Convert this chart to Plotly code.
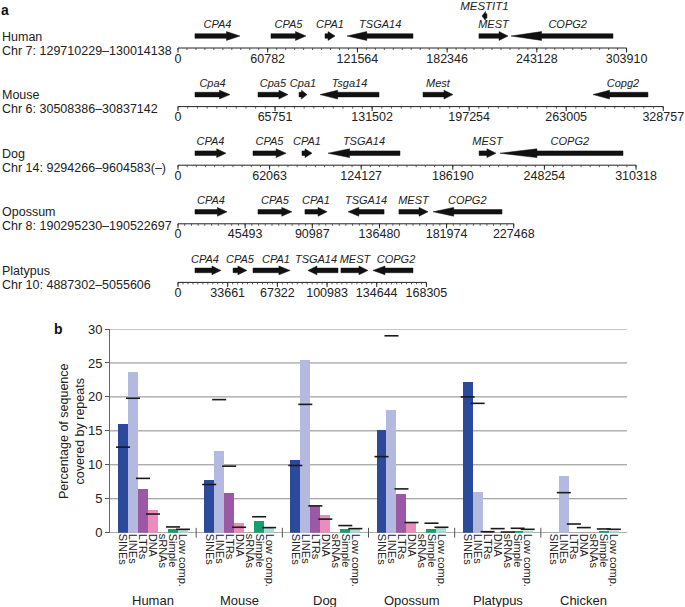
import plotly.graph_objects as go

W, H = 685, 607
FONT = "Liberation Sans, Arial, Helvetica, sans-serif"

# ---------------- Panel a data ----------------
species_a = ["Human", "Mouse", "Dog", "Opossum", "Platypus"]
chrom_a = ["Chr 7: 129710229–130014138", "Chr 6: 30508386–30837142",
           "Chr 14: 9294266–9604583(–)", "Chr 8: 190295230–190522697",
           "Chr 10: 4887302–5055606"]
region_len = [303910, 328757, 310318, 227468, 168305]
ruler_ticks = [
    [0, 60782, 121564, 182346, 243128, 303910],
    [0, 65751, 131502, 197254, 263005, 328757],
    [0, 62063, 124127, 186190, 248254, 310318],
    [0, 45493, 90987, 136480, 181974, 227468],
    [0, 33661, 67322, 100983, 134644, 168305],
]

human_genes = ["CPA4", "CPA5", "CPA1", "TSGA14", "MEST", "COPG2", "MESTIT1"]
human_start = [11500, 63000, 99600, 114500, 203900, 225600, 206000]
human_end = [42000, 86700, 106400, 159200, 223600, 294700, 209300]
human_strand = [1, 1, 1, -1, 1, -1, -1]
human_lane = [0, 0, 0, 0, 0, 0, 1]
human_label_pos = [26700, 74800, 103000, 137000, 213700, 264000, 207600]

mouse_genes = ["Cpa4", "Cpa5", "Cpa1", "Tsga14", "Mest", "Copg2"]
mouse_start = [11500, 54200, 82000, 96200, 166000, 281200]
mouse_end = [35200, 74500, 87400, 136200, 186300, 318400]
mouse_strand = [1, 1, 1, -1, 1, -1]
mouse_lane = [0, 0, 0, 0, 0, 0]
mouse_label_pos = [23400, 64300, 84700, 116200, 176100, 301500]

dog_genes = ["CPA4", "CPA5", "CPA1", "TSGA14", "MEST", "COPG2"]
dog_start = [11500, 50800, 84000, 101600, 204000, 218200]
dog_end = [32500, 73200, 90800, 150400, 215400, 301500]
dog_strand = [1, 1, 1, -1, 1, -1]
dog_lane = [0, 0, 0, 0, 0, 0]
dog_label_pos = [22000, 62000, 87400, 126000, 209700, 265500]

opossum_genes = ["CPA4", "CPA5", "CPA1", "TSGA14", "MEST", "COPG2"]
opossum_start = [11500, 54200, 86000, 115200, 149700, 172800]
opossum_end = [33200, 77200, 101000, 139600, 169400, 219500]
opossum_strand = [1, 1, 1, -1, 1, -1]
opossum_lane = [0, 0, 0, 0, 0, 0]
opossum_label_pos = [22300, 65700, 93500, 127400, 159500, 196000]

platypus_genes = ["CPA4", "CPA5", "CPA1", "TSGA14", "MEST", "COPG2"]
platypus_start = [11500, 37300, 50800, 88000, 110400, 132100]
platypus_end = [29100, 46700, 75900, 108400, 128700, 159200]
platypus_strand = [1, 1, 1, -1, 1, -1]
platypus_lane = [0, 0, 0, 0, 0, 0]
platypus_label_pos = [18300, 42000, 66400, 93500, 119900, 147700]

gene_tracks = [
    (human_genes, human_start, human_end, human_strand, human_lane, human_label_pos),
    (mouse_genes, mouse_start, mouse_end, mouse_strand, mouse_lane, mouse_label_pos),
    (dog_genes, dog_start, dog_end, dog_strand, dog_lane, dog_label_pos),
    (opossum_genes, opossum_start, opossum_end, opossum_strand, opossum_lane, opossum_label_pos),
    (platypus_genes, platypus_start, platypus_end, platypus_strand, platypus_lane, platypus_label_pos),
]

# ---------------- Panel b data ----------------
species_b = ["Human", "Mouse", "Dog", "Opossum", "Platypus", "Chicken"]
repeat_classes = ["SINEs", "LINEs", "LTRs", "DNA", "sRNAs", "Simple", "Low comp."]
sines = [16.0, 7.8, 10.7, 15.1, 22.2, 0.0]
lines_ = [23.6, 12.1, 25.5, 18.1, 6.0, 8.3]
ltrs = [6.5, 5.85, 4.0, 5.65, 0.1, 0.0]
dna = [3.4, 1.4, 2.6, 1.45, 0.0, 0.0]
srnas = [0.0, 0.0, 0.0, 0.0, 0.0, 0.0]
simple = [0.5, 1.7, 0.6, 0.6, 0.3, 0.25]
lowcomp = [0.35, 0.8, 0.5, 0.75, 0.3, 0.25]

sines_avg = [12.6, 7.1, 9.9, 11.2, 20.0, None]
lines_avg = [19.8, 19.6, 18.9, 29.0, 19.05, 5.9]
ltrs_avg = [8.0, 9.8, 3.95, 6.45, 0.15, 1.28]
dna_avg = [2.75, 0.8, 2.0, 1.5, 0.6, 0.75]
srnas_avg = [None, None, None, None, 0.1, None]
simple_avg = [0.85, 2.35, 1.05, 1.4, 0.65, 0.55]
lowcomp_avg = [0.5, 0.75, 0.6, 0.8, 0.5, 0.5]

y_ticks = [0, 5, 10, 15, 20, 25, 30]

bar_values = [sines, lines_, ltrs, dna, srnas, simple, lowcomp]
avg_values = [sines_avg, lines_avg, ltrs_avg, dna_avg, srnas_avg, simple_avg, lowcomp_avg]
bar_colors = ["#2C4A9B", "#B4BADF", "#9B58A5", "#EA8DBA", "#F5C9DC", "#14A06C", "#A9DCD3"]

fig = go.Figure()

# ================= Panel a =================
PX_PER_BP = 0.001476
X0_PX = 178
track_y0, track_dy = 48, 58.6


def arrow_poly(a, b, strand, yc):
    lpx = (b - a) * PX_PER_BP
    head_px = min(0.7 * lpx, max(9.0, 0.3 * lpx))
    hb = head_px / PX_PER_BP
    sh, hh = 2.3, 4.4
    if strand > 0:
        xh = b - hb
        xs = [a, xh, xh, b, xh, xh, a, a]
    else:
        xh = a + hb
        xs = [b, xh, xh, a, xh, xh, b, b]
    ys = [yc - sh, yc - sh, yc - hh, yc, yc + hh, yc + sh, yc + sh, yc - sh]
    return xs, ys


for k in range(len(species_a)):
    ry = track_y0 + track_dy * k
    L = region_len[k]
    ticks = ruler_ticks[k]
    fig.add_trace(go.Scatter(x=[0, L], y=[ry, ry], mode="lines",
                             line=dict(color="#222", width=1),
                             xaxis="x2", yaxis="y2", hoverinfo="skip", showlegend=False))
    step = ticks[1] / 10.0
    n = int(round(L / step))
    mx, my = [], []
    for j in range(n + 1):
        v = j * step
        mx += [v, v, None]
        my += [ry, ry + 2, None]
    fig.add_trace(go.Scatter(x=mx, y=my, mode="lines", line=dict(color="#333", width=0.8),
                             xaxis="x2", yaxis="y2", hoverinfo="skip", showlegend=False))
    Mx, My = [], []
    for v in ticks:
        Mx += [v, v, None]
        My += [ry, ry + 4.5, None]
    fig.add_trace(go.Scatter(x=Mx, y=My, mode="lines", line=dict(color="#222", width=1),
                             xaxis="x2", yaxis="y2", hoverinfo="skip", showlegend=False))
    fig.add_trace(go.Scatter(x=ticks, y=[ry + 11.5] * len(ticks), mode="text",
                             text=[str(t) for t in ticks], textposition="middle center",
                             textfont=dict(family=FONT, size=12.5, color="#222"),
                             xaxis="x2", yaxis="y2", hoverinfo="skip", showlegend=False,
                             cliponaxis=False))
    fig.add_annotation(x=0, xref="paper", xanchor="left", y=ry - 11.5, yref="y2",
                       text=species_a[k], showarrow=False,
                       font=dict(family=FONT, size=12.5, color="#222"))
    fig.add_annotation(x=0, xref="paper", xanchor="left", y=ry + 2.5, yref="y2",
                       text=chrom_a[k], showarrow=False,
                       font=dict(family=FONT, size=12.5, color="#222"))
    names, st, en, sd, ln, lp = gene_tracks[k]
    for g in range(len(names)):
        ay = ry - 12 - 20 * ln[g]
        xs, ys = arrow_poly(st[g], en[g], sd[g], ay)
        fig.add_trace(go.Scatter(x=xs, y=ys, mode="lines", fill="toself",
                                 fillcolor="#111", line=dict(color="#111", width=0.5),
                                 xaxis="x2", yaxis="y2", hoverinfo="skip", showlegend=False))
        fig.add_trace(go.Scatter(x=[lp[g]], y=[ay - (9 if ln[g] else 10.5)],
                                 mode="text", text=["<i>%s</i>" % names[g]],
                                 textposition="middle center",
                                 textfont=dict(family=FONT, size=11.5 if ln[g] else 11, color="#222"),
                                 xaxis="x2", yaxis="y2", hoverinfo="skip", showlegend=False,
                                 cliponaxis=False))

# ================= Panel b =================
GROUP_W = 8.62
PAD = 0.8
X_END = GROUP_W * len(species_b)

for yv in y_ticks:
    fig.add_shape(type="line", xref="x", yref="y", x0=0, x1=X_END, y0=yv, y1=yv,
                  line=dict(color="#8a8a8a" if yv else "#777", width=1), layer="below")

for i, cls in enumerate(repeat_classes):
    xs = [g * GROUP_W + PAD + i + 0.5 for g in range(len(species_b))]
    fig.add_trace(go.Bar(x=xs, y=bar_values[i], width=1.0, name=cls,
                         marker=dict(color=bar_colors[i], line=dict(width=0)),
                         showlegend=False, hoverinfo="skip"))

mark_x, mark_y = [], []
for i in range(len(repeat_classes)):
    for g in range(len(species_b)):
        v = avg_values[i][g]
        if v is not None:
            mark_x.append(g * GROUP_W + PAD + i + 0.5)
            mark_y.append(v)
fig.add_trace(go.Scatter(x=mark_x, y=mark_y, mode="markers",
                         marker=dict(symbol="line-ew", size=10, line=dict(color="#1a1a1a", width=1.6)),
                         showlegend=False, hoverinfo="skip", cliponaxis=False))

bx = [g * GROUP_W for g in range(1, len(species_b))]
fig.add_trace(go.Scatter(x=bx, y=[0] * len(bx), mode="markers",
                         marker=dict(symbol="line-ns", size=7, line=dict(color="#555", width=1)),
                         showlegend=False, hoverinfo="skip", cliponaxis=False))

tick_x, tick_t = [], []
for g in range(len(species_b)):
    for i, cls in enumerate(repeat_classes):
        tick_x.append(g * GROUP_W + PAD + i + 0.5)
        tick_t.append(cls)

for g, sp in enumerate(species_b):
    fig.add_annotation(x=g * GROUP_W + GROUP_W / 2, xref="x", y=(H - 600) / H, yref="paper",
                       yanchor="middle",
                       text=sp, showarrow=False, font=dict(family=FONT, size=13, color="#222"))

fig.add_annotation(x=72 / W, xref="paper", xanchor="center", y=(H - 431) / H, yref="paper",
                   yanchor="middle",
                   text="Percentage of sequence<br>covered by repeats", textangle=-90,
                   showarrow=False, font=dict(family=FONT, size=12.5, color="#222"))
fig.add_annotation(x=58 / W, xref="paper", y=(H - 329) / H, yref="paper", xanchor="center",
                   yanchor="middle",
                   text="<b>b</b>", showarrow=False, font=dict(family=FONT, size=14, color="#111"))
fig.add_annotation(x=5 / W, xref="paper", y=(H - 10) / H, yref="paper", xanchor="center",
                   yanchor="middle",
                   text="<b>a</b>", showarrow=False, font=dict(family=FONT, size=14, color="#111"))

fig.update_layout(
    width=W, height=H, margin=dict(l=0, r=0, t=0, b=0), autosize=False,
    paper_bgcolor="white", plot_bgcolor="rgba(0,0,0,0)", bargap=0, showlegend=False,
    font=dict(family=FONT, color="#222"),
    xaxis=dict(domain=[110 / W, 627 / W], range=[0, X_END],
               tickmode="array", tickvals=tick_x, ticktext=tick_t, tickangle=90,
               ticks="", tickfont=dict(size=11, family=FONT, color="#222"),
               showline=False, showgrid=False, zeroline=False,
               automargin=False, fixedrange=True),
    yaxis=dict(domain=[(H - 532.7) / H, (H - 329) / H], range=[0, 30],
               tickvals=y_ticks, ticks="outside", ticklen=4,
               tickcolor="#555", tickfont=dict(size=13, family=FONT, color="#222"),
               showgrid=False, zeroline=False,
               showline=True, linecolor="#666", linewidth=1, automargin=False, fixedrange=True),
    xaxis2=dict(domain=[0, 1], range=[-X0_PX / PX_PER_BP, (W - X0_PX) / PX_PER_BP],
                visible=False, anchor="y2", fixedrange=True),
    yaxis2=dict(domain=[0, 1], range=[H, 0], visible=False, anchor="x2", fixedrange=True),
)

fig.write_html("out.html", config={"displayModeBar": False},
               post_script="document.body.style.margin='0';")
